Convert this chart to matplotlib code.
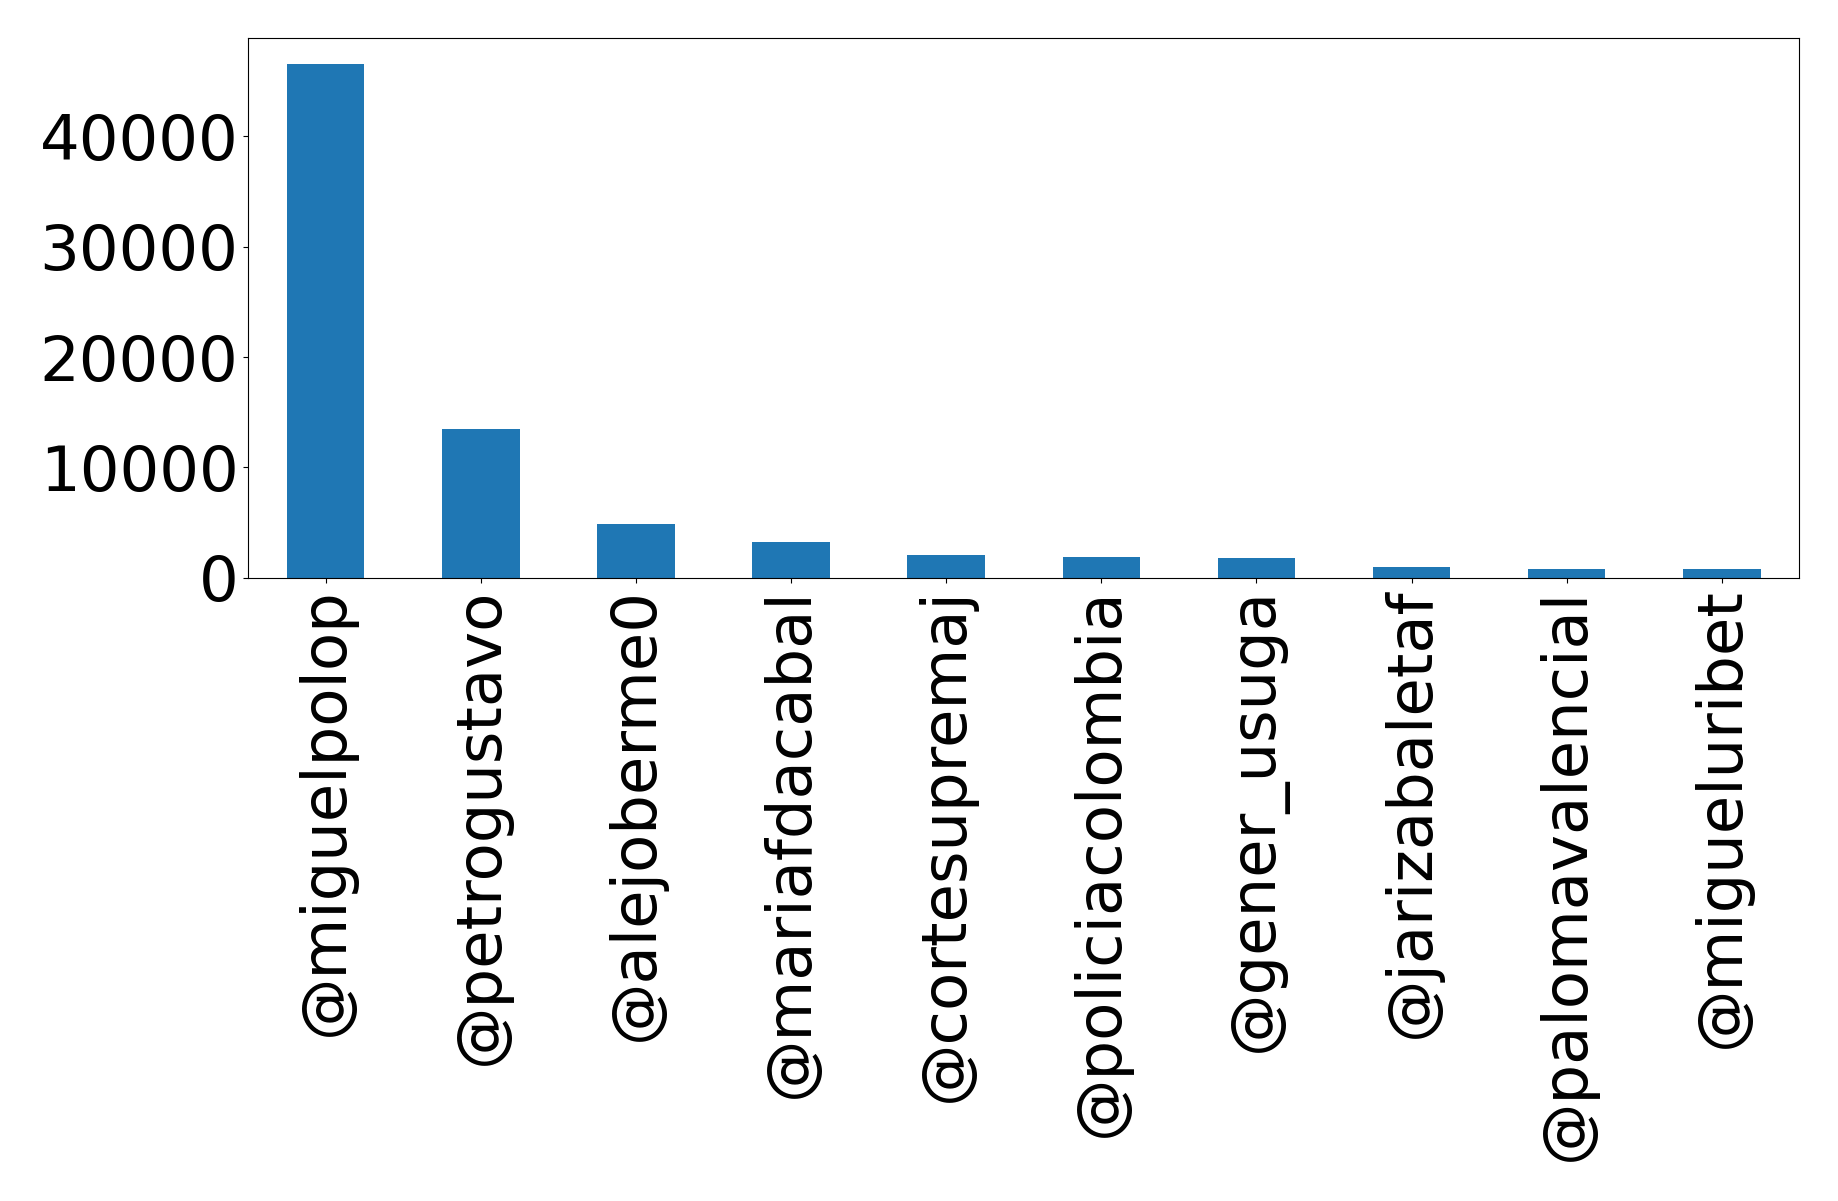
import matplotlib
matplotlib.use("Agg")
import matplotlib.pyplot as plt
from matplotlib.ticker import MultipleLocator
import pandas as pd

# Top mentioned accounts and their counts
accounts = [
    "@miguelpolop",
    "@petrogustavo",
    "@alejoberme0",
    "@mariafdacabal",
    "@cortesupremaj",
    "@policiacolombia",
    "@gener_usuga",
    "@jarizabaletaf",
    "@palomavalencial",
    "@migueluribet",
]
counts = [46550, 13490, 4900, 3270, 2090, 1900, 1815, 1000, 820, 820]

series = pd.Series(counts, index=accounts)

fig, ax = plt.subplots(figsize=(18.38, 12.01), dpi=100)
series.plot(kind="bar", ax=ax, color="#1f77b4")
ax.yaxis.set_major_locator(MultipleLocator(10000))
ax.tick_params(axis="both", labelsize=45)
for lbl in ax.get_xticklabels():
    lbl.set_rotation(90)

fig.subplots_adjust(left=0.135, right=0.979, top=0.968, bottom=0.519)
fig.savefig("out.png", dpi=100)
